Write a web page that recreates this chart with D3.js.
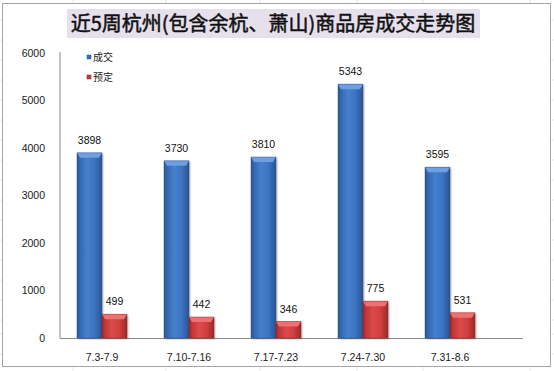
<!DOCTYPE html>
<html><head><meta charset="utf-8">
<script src="https://cdn.jsdelivr.net/npm/d3@7"></script>
<style>body{margin:0;background:#fff}svg{display:block}</style>
</head><body>
<script>
const categories = ["7.3-7.9","7.10-7.16","7.17-7.23","7.24-7.30","7.31-8.6"];
const series = ["成交","预定"];
const deals = [3898,3730,3810,5343,3595];
const bookings = [499,442,346,775,531];
const yTicks = [0,1000,2000,3000,4000,5000,6000];
const title = "近5周杭州(包含余杭、萧山)商品房成交走势图";

const W=554,H=371;
const svg=d3.select("body").append("svg").attr("width",W).attr("height",H);
const defs=svg.append("defs");
function grad(id,stops){
  const g=defs.append("linearGradient").attr("id",id).attr("x1","0%").attr("x2","100%").attr("y1","0%").attr("y2","0%");
  stops.forEach(s=>g.append("stop").attr("offset",s[0]).attr("stop-color",s[1]));
}
grad("gBlue",[["0%","#2a5592"],["12%","#3567b0"],["40%","#4680cc"],["70%","#3c74c0"],["100%","#2a5392"]]);
grad("gRed",[["0%","#9e2626"],["12%","#c03636"],["40%","#dc4a4a"],["70%","#d04040"],["100%","#9c2828"]]);
const f=defs.append("filter").attr("id","sh").attr("x","-20%").attr("y","-20%").attr("width","150%").attr("height","150%");
f.append("feDropShadow").attr("dx",1).attr("dy",1).attr("stdDeviation",1).attr("flood-color","#000").attr("flood-opacity",0.35);

// spreadsheet grid in background
const gridX=[73,166,260,357,423,530];
const gridY=[20,40,60,80,100,120,140,160,180,200,220,240,260,280,300,320,334,354];
svg.selectAll(".gx").data(gridX).enter().append("line").attr("x1",d=>d).attr("x2",d=>d).attr("y1",0).attr("y2",H).attr("stroke","#e6e6e6");
svg.selectAll(".gy").data(gridY).enter().append("line").attr("x1",0).attr("x2",W).attr("y1",d=>d).attr("y2",d=>d).attr("stroke","#e6e6e6");

// chart area
svg.append("rect").attr("x",2.5).attr("y",3.5).attr("width",548).attr("height",363).attr("fill","#fff").attr("stroke","#a6a6a6");

// title
svg.append("rect").attr("x",67).attr("y",9).attr("width",413).attr("height",29).attr("fill","#e6e0ec");
svg.append("text").attr("x",273).attr("y",31).attr("text-anchor","middle")
  .attr("font-family","'Noto Sans CJK SC'").attr("font-size",20).attr("font-weight","normal").attr("fill","#111")
  .attr("stroke","#111").attr("stroke-width",0.5)
  .text(title);

const y=d3.scaleLinear().domain([0,6000]).range([338,53]);
const x=d3.scaleBand().domain(categories).range([58.5,493.5]);
const x1=d3.scaleBand().domain(series).range([18.5,68.5]);

// axes
const font="'Liberation Sans', Arial, sans-serif";
const yAxis=svg.append("g").attr("transform","translate(60,0)").call(d3.axisLeft(y).tickValues(yTicks).tickSize(0).tickPadding(15).tickFormat(d3.format("d")));
yAxis.select(".domain").attr("stroke","#8a8a8a").attr("d","M0,"+(y(6000)-1)+"V"+y(0));
yAxis.selectAll("text").attr("font-family",font).attr("font-size",10.5).attr("fill","#1a1a1a");

svg.append("line").attr("x1",60).attr("x2",523).attr("y1",y(0)+0.5).attr("y2",y(0)+0.5).attr("stroke","#8a8a8a");

const xAxis=svg.append("g").attr("transform","translate(0,"+y(0)+")").call(d3.axisBottom(x).tickSize(0).tickPadding(14));
xAxis.select(".domain").remove();
xAxis.selectAll("text").attr("font-family",font).attr("font-size",10.5).attr("fill","#1a1a1a").attr("dy","0.9em");

// bars
const data=[];
categories.forEach((c,i)=>{
  data.push({c,s:series[0],v:deals[i],fill:"url(#gBlue)",top:"#6e9fe2",edge:"#2a5090"});
  data.push({c,s:series[1],v:bookings[i],fill:"url(#gRed)",top:"#ee7070",edge:"#9a2424"});
});
const bars=svg.append("g").selectAll("g").data(data).enter().append("g");
bars.append("rect")
  .attr("x",d=>x(d.c)+x1(d.s)).attr("y",d=>y(d.v)).attr("width",x1.bandwidth()).attr("height",d=>y(0)-y(d.v))
  .attr("fill",d=>d.fill).attr("filter","url(#sh)");
bars.append("path").attr("fill",d=>d.top).attr("d",d=>{
  const x0=x(d.c)+x1(d.s),w=x1.bandwidth(),t=y(d.v);
  return `M${x0},${t}H${x0+w}L${x0+w-3},${t+5}H${x0+3}Z`;
});
bars.append("rect").attr("x",d=>x(d.c)+x1(d.s)).attr("y",d=>y(d.v)).attr("width",x1.bandwidth()).attr("height",d=>y(0)-y(d.v))
  .attr("fill","none").attr("stroke",d=>d.edge).attr("stroke-opacity",0.5).attr("stroke-width",0.8);

// data labels
bars.append("text").attr("x",d=>x(d.c)+x1(d.s)+x1.bandwidth()/2).attr("y",d=>y(d.v)-9)
  .attr("text-anchor","middle").attr("font-family",font).attr("font-size",10.5).attr("fill","#111").text(d=>d.v);

// legend
const lg=svg.append("g");
const lcol=["#3a6fbe","#c83a3a"];
series.forEach((s,i)=>{
  lg.append("rect").attr("x",87).attr("y",55+i*20).attr("width",4).attr("height",4).attr("fill",lcol[i]).attr("stroke",i?"#8a2020":"#254f8c").attr("stroke-width",0.5);
  lg.append("text").attr("x",93).attr("y",61+i*20).attr("font-family","'Noto Sans CJK SC'").attr("font-size",10).attr("fill","#222").text(s);
});
</script>
</body></html>
